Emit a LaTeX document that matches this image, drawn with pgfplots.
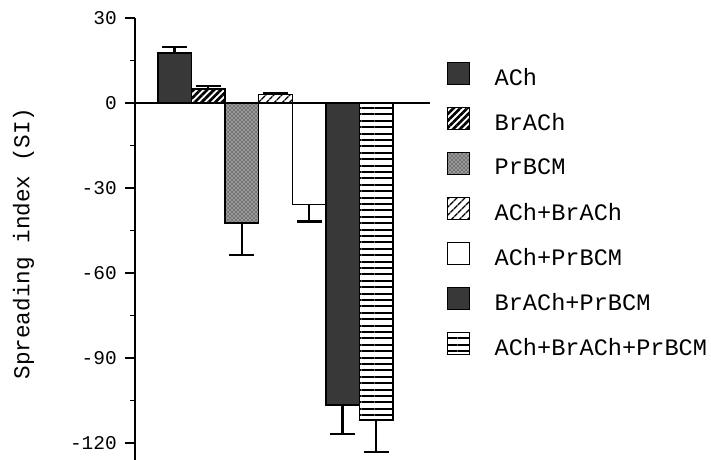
\documentclass[border=0pt]{standalone}
\usepackage{pgfplots}
\pgfplotsset{compat=1.18}
\usetikzlibrary{patterns,patterns.meta}
\usepackage{fontspec}
\newfontfamily\cour{Liberation Mono}
\begin{document}
\begin{tikzpicture}
\useasboundingbox (0,0) rectangle (533.25pt,-345pt);
\begin{axis}[
  at={(101.25pt,-345pt)}, anchor=south west,
  scale only axis, width=221.25pt, height=331.5pt,
  xmin=-0.18, xmax=8.6, ymin=-126, ymax=30,
  axis x line=middle, axis y line=left,
  axis line style={-, line width=1.4pt},
  xtick=\empty,
  ytick={-120,-90,...,30},
  minor y tick num=1,
  tick align=outside,
  major tick length=7.5pt, minor tick length=3.75pt,
  tick style={line width=1.2pt, black},
  hide obscured y ticks=false,
  /pgf/number format/assume math mode=true,
  yticklabel style={font=\cour\fontsize{14.6}{16}\selectfont, inner sep=0pt, xshift=-6pt},
  ylabel={Spreading index (SI)},
  ylabel style={font=\cour\fontsize{17}{20}\selectfont, at={(axis description cs:-0.378,0.49)}, anchor=center},
  mybar/.style={ybar, bar width=1, bar shift=0pt, draw=black, line width=1pt,
     error bars/y explicit,
     error bars/error bar style={line width=1.8pt, black},
     error bars/error mark options={rotate=90, line width=1.8pt, mark size=9.4pt, black}},
  legend style={draw=none, fill=none, at={(axis description cs:1.0576,0.9253)}, anchor=north west,
     inner sep=0pt, outer sep=0pt, row sep=0pt, column sep=0pt,
     font=\cour\fontsize{17.7}{20}\selectfont, nodes={inner sep=0pt, outer sep=0pt}},
  legend cell align=left,
  legend image code/.code={\draw[#1, line width=1pt] (0pt,-5.2pt) rectangle (16.5pt,11.3pt); \pgfpathrectangle{\pgfpoint{0pt}{-13.9pt}}{\pgfpoint{35.25pt}{33.75pt}}\pgfusepath{discard}},
]
\addplot[mybar, fill=black!78, error bars/y dir=plus] coordinates {(1,17.6) +- (0,2.1)};
\addlegendentry{ACh}
\addplot[mybar, pattern={Lines[angle=45,distance=3.6pt,line width=2pt]}, pattern color=black, error bars/y dir=plus] coordinates {(2,4.9) +- (0,1.2)};
\addlegendentry{BrACh}
\addplot[mybar, fill=black!40, postaction={pattern=crosshatch dots, pattern color=black}, error bars/y dir=minus] coordinates {(3,-42.3) +- (0,11.3)};
\addlegendentry{PrBCM}
\addplot[mybar, pattern={Lines[angle=45,distance=4pt,line width=1.1pt]}, pattern color=black, error bars/y dir=plus] coordinates {(4,3.0) +- (0,0.6)};
\addlegendentry{ACh+BrACh}
\addplot[mybar, fill=white, error bars/y dir=minus] coordinates {(5,-35.8) +- (0,6)};
\addlegendentry{ACh+PrBCM}
\addplot[mybar, fill=black!78, error bars/y dir=minus] coordinates {(6,-106.6) +- (0,10.2)};
\addlegendentry{BrACh+PrBCM}
\addplot[mybar, pattern={Lines[angle=0,distance=4.8pt,line width=1.5pt]}, pattern color=black, error bars/y dir=minus] coordinates {(7,-111.9) +- (0,11.3)};
\addlegendentry{ACh+BrACh+PrBCM}
\end{axis}
\end{tikzpicture}
\end{document}
